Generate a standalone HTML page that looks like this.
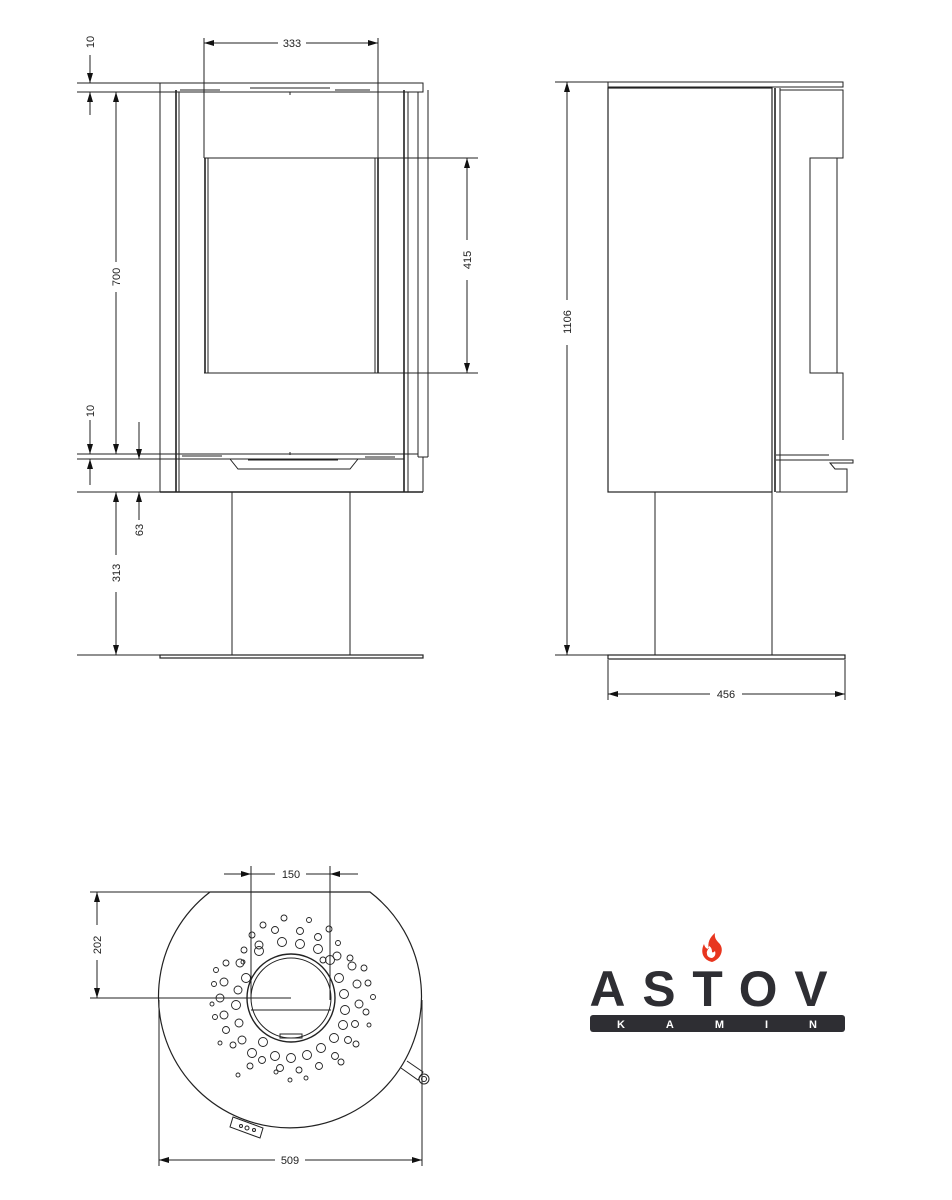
<!DOCTYPE html>
<html><head><meta charset="utf-8"><style>
html,body{margin:0;padding:0;background:#fff;}
svg{display:block;}
text{font-family:"Liberation Sans",sans-serif;font-size:11px;fill:#222;}
</style></head><body>
<svg width="952" height="1200" viewBox="0 0 952 1200" xmlns="http://www.w3.org/2000/svg">
<defs>
<marker id="a" viewBox="0 0 10 6" refX="10" refY="3" markerWidth="10" markerHeight="6" orient="auto-start-reverse" markerUnits="userSpaceOnUse"><path d="M0,0L10,3L0,6z" fill="#111"/></marker>
</defs>
<g stroke="#222" stroke-width="1" fill="none">
<!-- FRONT VIEW -->
<rect x="160" y="83" width="263" height="9"/>
<line x1="77" y1="83" x2="160" y2="83"/>
<line x1="77" y1="92" x2="160" y2="92"/>
<line x1="160" y1="92" x2="160" y2="492"/>
<line x1="176" y1="90" x2="176" y2="492" stroke-width="1.6"/>
<line x1="179" y1="92" x2="179" y2="492"/>
<line x1="404" y1="90" x2="404" y2="492" stroke-width="1.6"/>
<line x1="408" y1="92" x2="408" y2="492"/>
<line x1="418" y1="92" x2="418" y2="457"/>
<line x1="428" y1="90" x2="428" y2="457"/>
<line x1="418" y1="457" x2="428" y2="457"/>
<line x1="423" y1="457" x2="423" y2="492"/>
<line x1="160" y1="492" x2="423" y2="492" stroke-width="1.6"/>
<path d="M180 90h40M250 88h80M290 92v3M335 90h35"/>
<!-- glass -->
<line x1="204" y1="158" x2="478" y2="158"/>
<line x1="204" y1="373" x2="478" y2="373"/>
<line x1="205" y1="158" x2="205" y2="373" stroke-width="1.6"/>
<line x1="208" y1="158" x2="208" y2="373"/>
<line x1="375" y1="158" x2="375" y2="373"/>
<line x1="378" y1="158" x2="378" y2="373" stroke-width="1.6"/>
<!-- 333 -->
<line x1="204" y1="38" x2="204" y2="158"/>
<line x1="378" y1="38" x2="378" y2="158"/>
<line x1="204" y1="43" x2="278" y2="43" marker-start="url(#a)"/>
<line x1="306" y1="43" x2="378" y2="43" marker-end="url(#a)"/>
<!-- 415 -->
<line x1="467" y1="158" x2="467" y2="240" marker-start="url(#a)"/>
<line x1="467" y1="280" x2="467" y2="373" marker-end="url(#a)"/>
<!-- lower plate -->
<line x1="77" y1="454" x2="418" y2="454"/>
<line x1="77" y1="459" x2="404" y2="459"/>
<path d="M230 459l8 10h112l8 -10" />
<path d="M182 456h40M248 460h90M290 452v3M365 457h30"/>
<!-- 10 top -->
<line x1="90" y1="55" x2="90" y2="83" marker-end="url(#a)"/>
<line x1="90" y1="115" x2="90" y2="92" marker-end="url(#a)"/>
<!-- 700 -->
<line x1="116" y1="92" x2="116" y2="262" marker-start="url(#a)"/>
<line x1="116" y1="292" x2="116" y2="454" marker-end="url(#a)"/>
<!-- 10 low -->
<line x1="90" y1="420" x2="90" y2="454" marker-end="url(#a)"/>
<line x1="90" y1="485" x2="90" y2="459" marker-end="url(#a)"/>
<!-- 63 -->
<line x1="139" y1="422" x2="139" y2="459" marker-end="url(#a)"/>
<line x1="139" y1="520" x2="139" y2="492" marker-end="url(#a)"/>
<line x1="77" y1="492" x2="160" y2="492"/>
<!-- leg -->
<line x1="232" y1="492" x2="232" y2="655"/>
<line x1="350" y1="492" x2="350" y2="655"/>
<rect x="160" y="655" width="263" height="3" stroke-width="1.2"/>
<line x1="77" y1="655" x2="160" y2="655"/>
<!-- 313 -->
<line x1="116" y1="492" x2="116" y2="555" marker-start="url(#a)"/>
<line x1="116" y1="592" x2="116" y2="655" marker-end="url(#a)"/>

<!-- SIDE VIEW -->
<rect x="608" y="82" width="235" height="5"/>
<line x1="555" y1="82" x2="608" y2="82"/>
<rect x="608" y="88" width="164" height="404" stroke-width="1.2"/>
<line x1="775" y1="88" x2="775" y2="492" stroke-width="1.6"/>
<line x1="780" y1="88" x2="780" y2="492"/>
<path d="M780 90h63v68h-33v215h33v67"/>
<line x1="837" y1="158" x2="837" y2="373"/>
<path d="M776 455h53M776 460h77v3h-23l5 6h12v23h-65"/>
<line x1="776" y1="492" x2="840" y2="492"/>
<line x1="655" y1="492" x2="655" y2="655"/>
<line x1="772" y1="492" x2="772" y2="655"/>
<rect x="608" y="655" width="237" height="4" stroke-width="1.2"/>
<line x1="555" y1="655" x2="608" y2="655"/>
<line x1="567" y1="82" x2="567" y2="300" marker-start="url(#a)"/>
<line x1="567" y1="345" x2="567" y2="655" marker-end="url(#a)"/>
<line x1="608" y1="660" x2="608" y2="700"/>
<line x1="845" y1="660" x2="845" y2="700"/>
<line x1="608" y1="694" x2="710" y2="694" marker-start="url(#a)"/>
<line x1="742" y1="694" x2="845" y2="694" marker-end="url(#a)"/>

<!-- BOTTOM VIEW -->
<path d="M210 892 A131.5 131.5 0 1 0 370 892 Z" stroke-width="1.2"/>
<line x1="90" y1="892" x2="210" y2="892"/>
<line x1="90" y1="998" x2="291" y2="998"/>
<line x1="97" y1="892" x2="97" y2="925" marker-start="url(#a)"/>
<line x1="97" y1="960" x2="97" y2="998" marker-end="url(#a)"/>
<circle cx="291" cy="998" r="44" stroke-width="1.4"/>
<circle cx="291" cy="998" r="40"/>
<line x1="251" y1="1010" x2="331" y2="1010"/>
<path d="M280 1038h22v-4h-22z"/>
<line x1="251" y1="866" x2="251" y2="1000"/>
<line x1="330" y1="866" x2="330" y2="1000"/>
<line x1="224" y1="874" x2="251" y2="874" marker-end="url(#a)"/>
<line x1="358" y1="874" x2="330" y2="874" marker-end="url(#a)"/>
<line x1="251" y1="874" x2="275" y2="874"/>
<line x1="306" y1="874" x2="330" y2="874"/>
<line x1="159" y1="1000" x2="159" y2="1166"/>
<line x1="422" y1="1000" x2="422" y2="1166"/>
<line x1="159" y1="1160" x2="275" y2="1160" marker-start="url(#a)"/>
<line x1="305" y1="1160" x2="422" y2="1160" marker-end="url(#a)"/>
<path d="M401 1068l17 12l5 -8l-16 -11"/>
<circle cx="424" cy="1079" r="5"/><circle cx="424" cy="1079" r="2.5"/>
<path d="M233 1117l30 11l-3 10l-30 -11z"/>
<circle cx="241" cy="1126" r="1.5"/><circle cx="247" cy="1128" r="2"/><circle cx="254" cy="1130" r="1.5"/>
<g id="holes" stroke-width="0.9"></g>
</g>
<!-- holes -->
<g stroke="#222" stroke-width="0.9" fill="none">
<circle cx="263" cy="925" r="3"/><circle cx="284" cy="918" r="3"/><circle cx="309" cy="920" r="2.5"/><circle cx="329" cy="929" r="3"/><circle cx="252" cy="935" r="3"/><circle cx="275" cy="930" r="3.5"/><circle cx="300" cy="931" r="3.5"/><circle cx="318" cy="937" r="3.5"/><circle cx="338" cy="943" r="2.5"/>
<circle cx="259" cy="945" r="4"/><circle cx="282" cy="942" r="4.5"/><circle cx="300" cy="944" r="4.5"/><circle cx="318" cy="949" r="4.5"/><circle cx="337" cy="956" r="4"/><circle cx="244" cy="950" r="3"/><circle cx="350" cy="958" r="3"/>
<circle cx="259" cy="951" r="4.5"/><circle cx="240" cy="963" r="4"/><circle cx="246" cy="978" r="4.5"/><circle cx="238" cy="990" r="4"/><circle cx="236" cy="1005" r="4.5"/><circle cx="239" cy="1023" r="4"/><circle cx="242" cy="1040" r="4"/><circle cx="252" cy="1053" r="4.5"/><circle cx="263" cy="1042" r="4.5"/>
<circle cx="275" cy="1056" r="4.5"/><circle cx="291" cy="1058" r="4.5"/><circle cx="307" cy="1055" r="4.5"/><circle cx="321" cy="1048" r="4.5"/><circle cx="334" cy="1038" r="4.5"/><circle cx="343" cy="1025" r="4.5"/><circle cx="345" cy="1010" r="4.5"/><circle cx="344" cy="994" r="4.5"/><circle cx="339" cy="978" r="4.5"/><circle cx="330" cy="960" r="4.5"/><circle cx="323" cy="960" r="3"/>
<circle cx="352" cy="966" r="4"/><circle cx="357" cy="984" r="4"/><circle cx="359" cy="1004" r="4"/><circle cx="355" cy="1024" r="3.5"/><circle cx="348" cy="1040" r="3.5"/><circle cx="335" cy="1056" r="3.5"/><circle cx="319" cy="1066" r="3.5"/><circle cx="299" cy="1070" r="3"/><circle cx="280" cy="1068" r="3.5"/><circle cx="262" cy="1060" r="3.5"/><circle cx="250" cy="1066" r="3"/>
<circle cx="224" cy="982" r="4"/><circle cx="220" cy="998" r="4"/><circle cx="224" cy="1015" r="4"/><circle cx="226" cy="1030" r="3.5"/><circle cx="233" cy="1045" r="3"/><circle cx="220" cy="1043" r="2"/><circle cx="226" cy="963" r="3"/><circle cx="216" cy="970" r="2.5"/><circle cx="214" cy="984" r="2.5"/><circle cx="212" cy="1004" r="2"/><circle cx="215" cy="1017" r="2.5"/>
<circle cx="364" cy="968" r="3"/><circle cx="368" cy="983" r="3"/><circle cx="373" cy="997" r="2.5"/><circle cx="366" cy="1012" r="3"/><circle cx="369" cy="1025" r="2"/><circle cx="356" cy="1044" r="3"/><circle cx="341" cy="1062" r="3"/><circle cx="306" cy="1078" r="2"/><circle cx="290" cy="1080" r="2"/><circle cx="276" cy="1072" r="2"/><circle cx="243" cy="962" r="2"/><circle cx="238" cy="1075" r="2"/>
</g>
<!-- labels -->
<text x="292" y="47" text-anchor="middle">333</text>
<text transform="translate(471,260) rotate(-90)" text-anchor="middle">415</text>
<text transform="translate(94,42) rotate(-90)" text-anchor="middle">10</text>
<text transform="translate(120,277) rotate(-90)" text-anchor="middle">700</text>
<text transform="translate(94,411) rotate(-90)" text-anchor="middle">10</text>
<text transform="translate(143,530) rotate(-90)" text-anchor="middle">63</text>
<text transform="translate(120,573) rotate(-90)" text-anchor="middle">313</text>
<text transform="translate(571,322) rotate(-90)" text-anchor="middle">1106</text>
<text x="726" y="698" text-anchor="middle">456</text>
<text x="291" y="878" text-anchor="middle">150</text>
<text transform="translate(101,945) rotate(-90)" text-anchor="middle">202</text>
<text x="290" y="1164" text-anchor="middle">509</text>
<!-- LOGO -->
<path d="M712 962c-9-2-12-10-8-18c1 4 3 5 5 5c-2-6 1-12 6-16c-1 5 2 8 4 10c3 3 4 8 1 13c-2 3-5 5-8 6zm0-4c3-1 4-4 3-7c-1 1-2 2-3 1c0-3-1-5-3-6c0 3-3 5-2 8c0 2 2 4 5 4z" fill="#e8361f"/>
<text x="717" y="1006" text-anchor="middle" style="font-size:50px;font-weight:bold;fill:#2e2e33;letter-spacing:17px;" textLength="255" lengthAdjust="spacingAndGlyphs">ASTOV</text>
<rect x="590" y="1015" width="255" height="17" rx="3" fill="#2e2e33"/>
<text x="717" y="1028" text-anchor="middle" style="font-size:11px;font-weight:bold;fill:#fff;" textLength="200" lengthAdjust="spacing">KAMIN</text>
</svg>
</body></html>
